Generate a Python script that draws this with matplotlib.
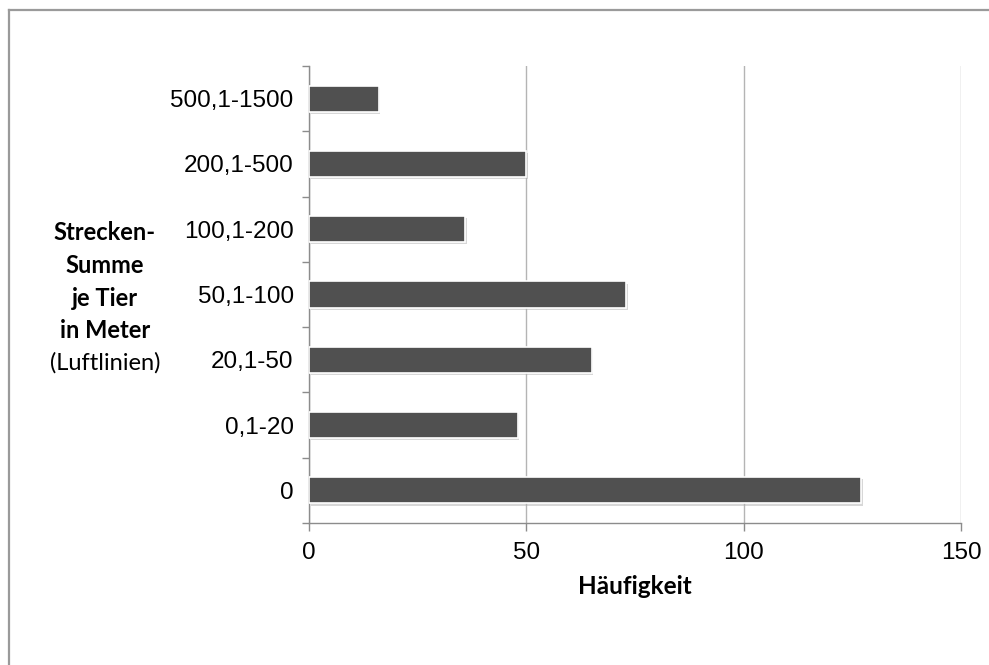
import matplotlib.pyplot as plt
import matplotlib.patheffects as pe
from matplotlib.lines import Line2D

# Strecken-Summe je Tier, Häufigkeit je Klasse (von unten nach oben)
klassen = ["0", "0,1-20", "20,1-50", "50,1-100", "100,1-200", "200,1-500", "500,1-1500"]
haeufigkeit = [127, 48, 65, 73, 36, 50, 16]
x_ticks = [0, 50, 100, 150]

dunkelgrau = "#505050"
gitter = "#b4b4b4"
achse = "#8c8c8c"

fig = plt.figure(figsize=(9.89, 6.65), dpi=100)
ax = fig.add_axes([0.3124, 0.2135, 0.9717 - 0.3124, 0.9008 - 0.2135])

pos = list(range(len(klassen)))
bars = ax.barh(pos, haeufigkeit, height=0.4, color=dunkelgrau,
               edgecolor="white", linewidth=1.2, zorder=3)
for b in bars:
    b.set_path_effects([pe.SimplePatchShadow(offset=(1.2, -1.5), shadow_rgbFace="#b0b0b0", alpha=0.5),
                        pe.Normal()])

ax.set_xlim(0, 150)
ax.set_ylim(-0.5, len(klassen) - 0.5)

ax.set_xticks(x_ticks)
ax.set_xticklabels([str(v) for v in x_ticks], fontfamily="Liberation Sans", fontsize=17.5)
ax.tick_params(axis="x", direction="out", length=6, width=1, color=achse, pad=8)

# Kategorie-Striche zwischen den Balken, Beschriftung in der Mitte
ax.set_yticks([p - 0.5 for p in pos] + [len(klassen) - 0.5])
ax.set_yticklabels([])
ax.set_yticks(pos, minor=True)
ax.set_yticklabels(klassen, minor=True, fontfamily="Liberation Sans", fontsize=17.5)
ax.tick_params(axis="y", which="major", direction="out", length=5, width=1, color=achse)
ax.tick_params(axis="y", which="minor", length=0, pad=11)

ax.grid(axis="x", color=gitter, linewidth=1, zorder=0)
ax.set_axisbelow(True)
for s in ["top", "right"]:
    ax.spines[s].set_visible(False)
for s in ["left", "bottom"]:
    ax.spines[s].set_color(achse)
    ax.spines[s].set_linewidth(1)

fig.text(0.642, 0.118, "Häufigkeit", ha="center", va="center",
         fontfamily="Lato", fontweight="bold", fontsize=17.5)

zeilen = ["Strecken-", "Summe", "je Tier", "in Meter"]
y0 = 1 - 233 / 665
for i, z in enumerate(zeilen):
    fig.text(0.106, y0 - i * 32.5 / 665, z, ha="center", va="center",
             fontfamily="Lato", fontweight="bold", fontsize=17)
fig.text(0.106, y0 - 4 * 32.5 / 665, "(Luftlinien)", ha="center", va="center",
         fontfamily="Lato", fontsize=17)

# Rahmen oben und links
fig.add_artist(Line2D([0.0095, 0.0095], [0, 1 - 10 / 665], transform=fig.transFigure,
                      color="#9a9a9a", linewidth=1.6))
fig.add_artist(Line2D([0.0095, 1], [1 - 10 / 665, 1 - 10 / 665], transform=fig.transFigure,
                      color="#9a9a9a", linewidth=1.6))

fig.savefig("out.png", dpi=100, facecolor="white")
